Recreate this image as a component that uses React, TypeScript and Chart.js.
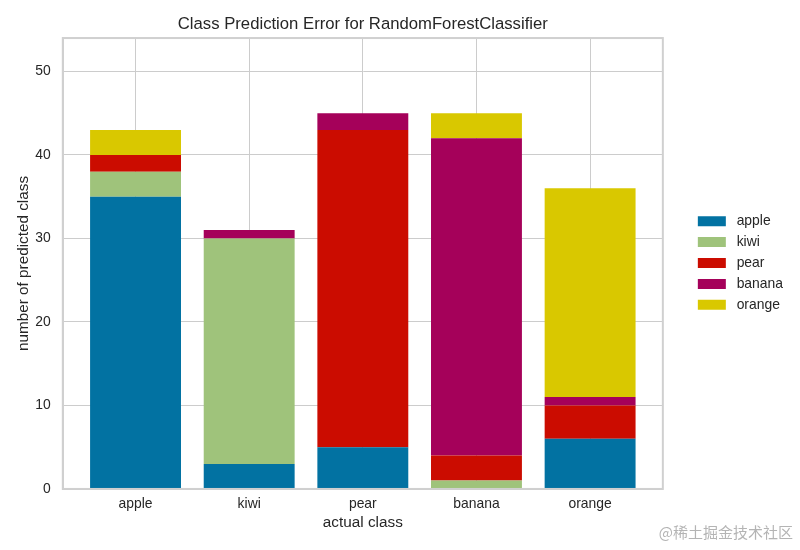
import React, { useEffect, useRef } from "react";
import { Chart, registerables } from "chart.js";

Chart.register(...registerables);

const categories = ["apple", "kiwi", "pear", "banana", "orange"];
const appleVals = [35, 3, 5, 0, 6];
const kiwiVals = [3, 27, 0, 1, 0];
const pearVals = [2, 0, 38, 3, 4];
const bananaVals = [0, 1, 2, 38, 1];
const orangeVals = [3, 0, 0, 3, 25];
const yTicks = [0, 10, 20, 30, 40, 50];

const seriesNames = ["apple", "kiwi", "pear", "banana", "orange"];
const seriesValues = [appleVals, kiwiVals, pearVals, bananaVals, orangeVals];
const seriesColors = ["#0272a2", "#9fc37b", "#cb0c00", "#a5015a", "#d9c800"];

const FONT = "'Liberation Sans', Arial, sans-serif";
const TEXT = "#262626";
const LEGEND_GAP = 28;
const LEGEND_SHIFT_Y = -3;

const frame = {
  id: "frame",
  beforeLayout(chart: any) {
    const legend = chart.legend;
    if (legend && !legend.__wrapped) {
      const orig = legend.fit;
      legend.fit = function (this: any) {
        orig.call(this);
        this.width += LEGEND_GAP;
      };
      legend.__wrapped = true;
    }
  },
  afterLayout(chart: any) {
    const legend = chart.legend;
    if (legend) {
      legend.left += LEGEND_GAP;
      legend.top += LEGEND_SHIFT_Y;
      legend.bottom += LEGEND_SHIFT_Y;
    }
  },
  afterDatasetsDraw(chart: any) {
    const { ctx, chartArea } = chart;
    ctx.save();
    ctx.strokeStyle = "#d0d0d0";
    ctx.lineWidth = 2;
    ctx.strokeRect(chartArea.left, chartArea.top, chartArea.right - chartArea.left, chartArea.bottom - chartArea.top);
    ctx.restore();
  },
};

export default function App() {
  const ref = useRef<HTMLCanvasElement | null>(null);
  useEffect(() => {
    document.body.style.margin = "0";
    const chart = new Chart(ref.current as HTMLCanvasElement, {
      type: "bar",
      data: {
        datasets: seriesNames.map((name, k) => ({
          label: name,
          data: seriesValues[k].map((v, i) => ({ x: i, y: v })),
          backgroundColor: seriesColors[k],
          borderWidth: 0,
          barPercentage: 1,
          categoryPercentage: 0.8,
        })),
      },
      options: {
        animation: false,
        responsive: false,
        layout: { padding: { left: 15, right: 7, top: 0, bottom: 18 } },
        plugins: {
          title: {
            display: true,
            fullSize: false,
            text: "Class Prediction Error for RandomForestClassifier",
            color: TEXT,
            font: { family: FONT, size: 16.7, weight: "normal" },
            padding: { top: 14, bottom: 4 },
          },
          legend: {
            position: "right",
            labels: {
              color: TEXT,
              font: { family: FONT, size: 13.9 },
              boxWidth: 28,
              boxHeight: 10,
              padding: 7,
              generateLabels: (chart: any) => {
                const items = Chart.defaults.plugins.legend.labels.generateLabels(chart);
                return items.map((it: any) => ({ ...it, text: " " + it.text }));
              },
            },
          },
          tooltip: { enabled: false },
        },
        scales: {
          x: {
            type: "linear",
            stacked: true,
            min: -0.64,
            max: 4.64,
            offset: false,
            afterBuildTicks: (scale: any) => {
              scale.ticks = categories.map((_, i) => ({ value: i }));
            },
            ticks: {
              color: TEXT,
              font: { family: FONT, size: 13.9 },
              padding: 7,
              autoSkip: false,
              maxRotation: 0,
              callback: (v: any) => categories[v as number] ?? "",
            },
            grid: { color: "#cccccc", lineWidth: 1, drawTicks: false, offset: false },
            border: { color: "#d0d0d0", width: 2 },
            title: {
              display: true,
              text: "actual class",
              color: TEXT,
              font: { family: FONT, size: 15.3 },
              padding: { top: -6, bottom: 0 },
            },
          },
          y: {
            stacked: true,
            min: 0,
            max: 54,
            afterBuildTicks: (scale: any) => {
              scale.ticks = yTicks.map((v) => ({ value: v }));
            },
            ticks: {
              color: TEXT,
              font: { family: FONT, size: 13.9 },
              padding: 12,
            },
            grid: { color: "#cccccc", lineWidth: 1, drawTicks: false },
            border: { color: "#d0d0d0", width: 2 },
            title: {
              display: true,
              text: "number of predicted class",
              color: TEXT,
              font: { family: FONT, size: 15.3 },
              padding: { top: 0, bottom: -10 },
            },
          },
        },
      },
      plugins: [frame],
    } as any);
    return () => chart.destroy();
  }, []);
  return (
    <div style={{ position: "relative", width: 800, height: 550 }}>
      <canvas ref={ref} width={800} height={550} />
      <div
        style={{
          position: "absolute",
          right: 7,
          top: 521,
          fontFamily: "'Noto Sans CJK SC', sans-serif",
          fontSize: 15,
          color: "#b4b4b4",
          lineHeight: "22px",
        }}
      >
        @稀土掘金技术社区
      </div>
    </div>
  );
}
